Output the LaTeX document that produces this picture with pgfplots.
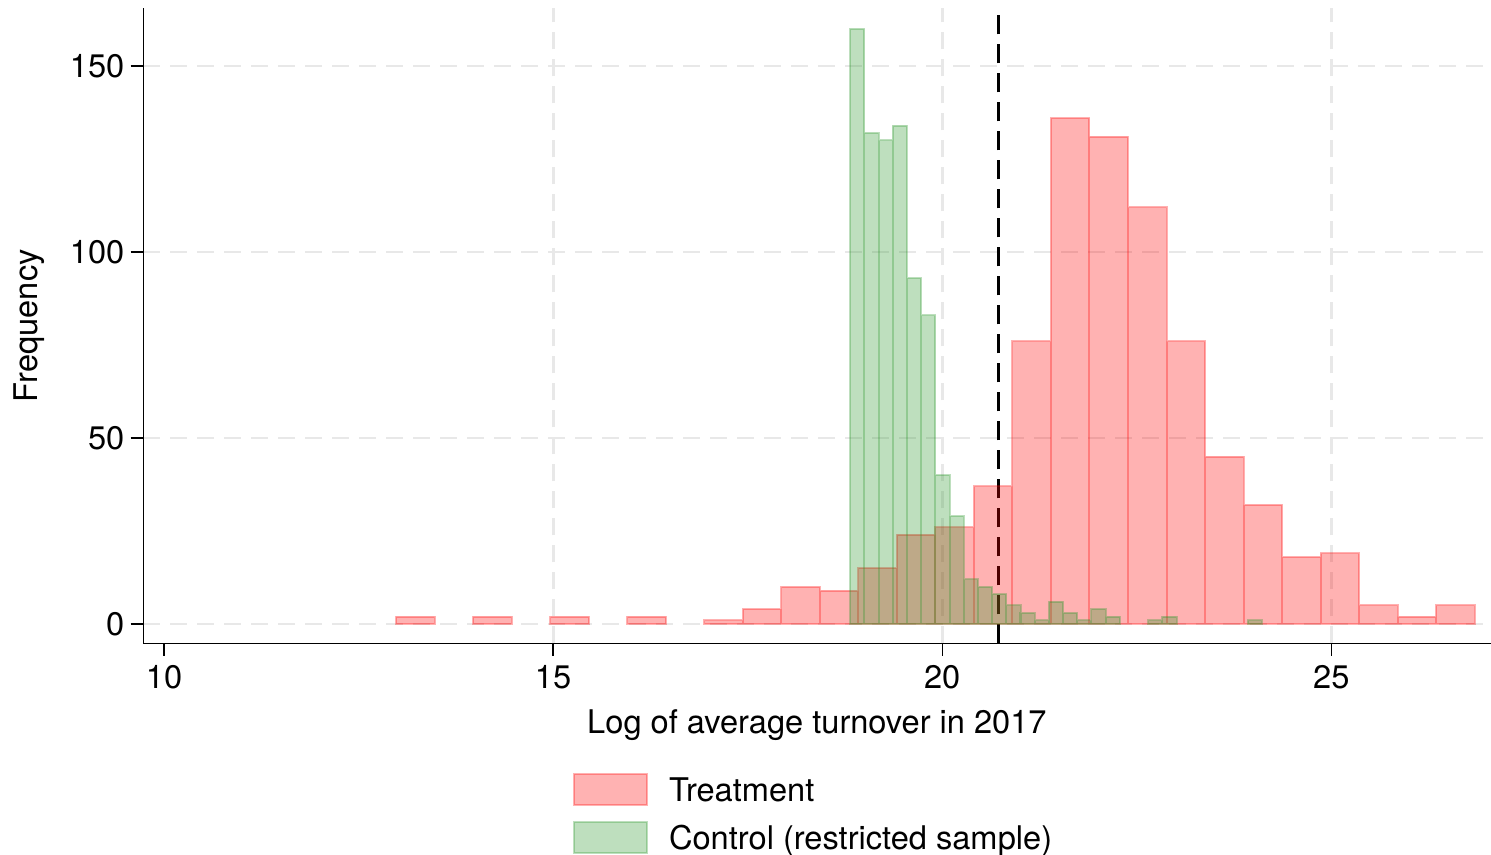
\documentclass[border=0pt]{standalone}
\usepackage{pgfplots}
\pgfplotsset{compat=1.18}
\usepackage{fontspec}
\setmainfont{TeX Gyre Heros}

\definecolor{treat}{RGB}{255,0,0}
\definecolor{ctrl}{RGB}{40,150,40}
\definecolor{gridgray}{RGB}{232,232,232}

\newcommand{\chartfont}{\fontsize{16.3}{19.5}\selectfont}

% legend key: a filled box with the bar's fill and outline
\pgfplotsset{barlegend/.style={legend image code/.code={\draw[##1] (0pt,-7.75pt) rectangle (36.5pt,7.75pt);}}}

\begin{document}
\begin{tikzpicture}
\begin{axis}[
  width=673.6pt, height=317.65pt, scale only axis,
  clip=false,
  xmin=9.734, xmax=27.046, ymin=-5.19, ymax=165.6,
  axis lines*=left,
  axis line style={line width=0.7pt, black},
  tick align=outside, tick pos=left,
  major tick length=6.3pt,
  tick style={line width=0.7pt, black},
  xtick={10,15,20,25}, ytick={0,50,100,150},
  extra x ticks={15,20,25}, extra x tick labels={},
  extra x tick style={grid=major, major tick length=0pt},
  ymajorgrids,
  grid style={gridgray, line width=1.4pt, dash pattern=on 8.5pt off 5pt},
  /pgf/number format/assume math mode=true,
  tick label style={font=\chartfont},
  xticklabel style={inner sep=4.5pt},
  yticklabel style={inner sep=3pt},
  label style={font=\chartfont},
  xlabel={Log of average turnover in 2017},
  xlabel style={at={(axis description cs:0.5,-0.1034)}, anchor=north, inner sep=0pt},
  ylabel={Frequency},
  ylabel style={at={(axis description cs:-0.0965,0.5)}, anchor=north, inner sep=0pt},
  legend cell align=left,
  legend style={at={(0.319,-0.2037)}, anchor=north west, draw=none, fill=none,
    inner sep=0pt, outer sep=0pt, row sep=7.5pt,
    font=\chartfont,
    nodes={inner sep=0pt, text height=11.8pt, text depth=0pt},
    /tikz/every odd column/.append style={column sep=10.5pt}},
]

% cutoff line, drawn first so the bars tint it
\addplot[forget plot, black, line width=1.3pt, dash pattern=on 9.5pt off 5pt]
  coordinates {(20.722,-5.19) (20.722,165.6)};

% treatment firms, bins of width 0.4949
\addplot[ybar, bar width=0.4949, bar shift=0pt,
  fill=treat, draw=treat, opacity=0.3, line width=1pt, barlegend]
  coordinates {
  (13.231,2) (14.221,2) (15.211,2) (16.201,2)
  (17.191,1) (17.686,4) (18.181,10) (18.676,9)
  (19.170,15) (19.665,24) (20.160,26) (20.655,37)
  (21.150,76) (21.645,136) (22.140,131) (22.635,112)
  (23.130,76) (23.625,45) (24.120,32) (24.615,18)
  (25.109,19) (25.604,5) (26.099,2) (26.594,5)
  };
\addlegendentry{Treatment}

% control firms (restricted sample), bins of width 0.1824
\addplot[ybar, bar width=0.1824, bar shift=0pt,
  fill=ctrl, draw=ctrl, opacity=0.3, line width=1pt, barlegend]
  coordinates {
  (18.908,160) (19.091,132) (19.273,130) (19.455,134)
  (19.638,93) (19.820,83) (20.003,40) (20.185,29)
  (20.367,12) (20.550,10) (20.732,8) (20.915,5)
  (21.097,3) (21.280,1) (21.462,6) (21.644,3)
  (21.827,1) (22.009,4) (22.192,2) (22.739,1)
  (22.921,2) (24.015,1)
  };
\addlegendentry{Control (restricted sample)}

\coordinate (bbSW) at (rel axis cs:-0.10638,-0.33166);
\coordinate (bbNE) at (rel axis cs:1.00037,1.01259);
\end{axis}
\pgfresetboundingbox
\useasboundingbox (bbSW) rectangle (bbNE);
\end{tikzpicture}
\end{document}
